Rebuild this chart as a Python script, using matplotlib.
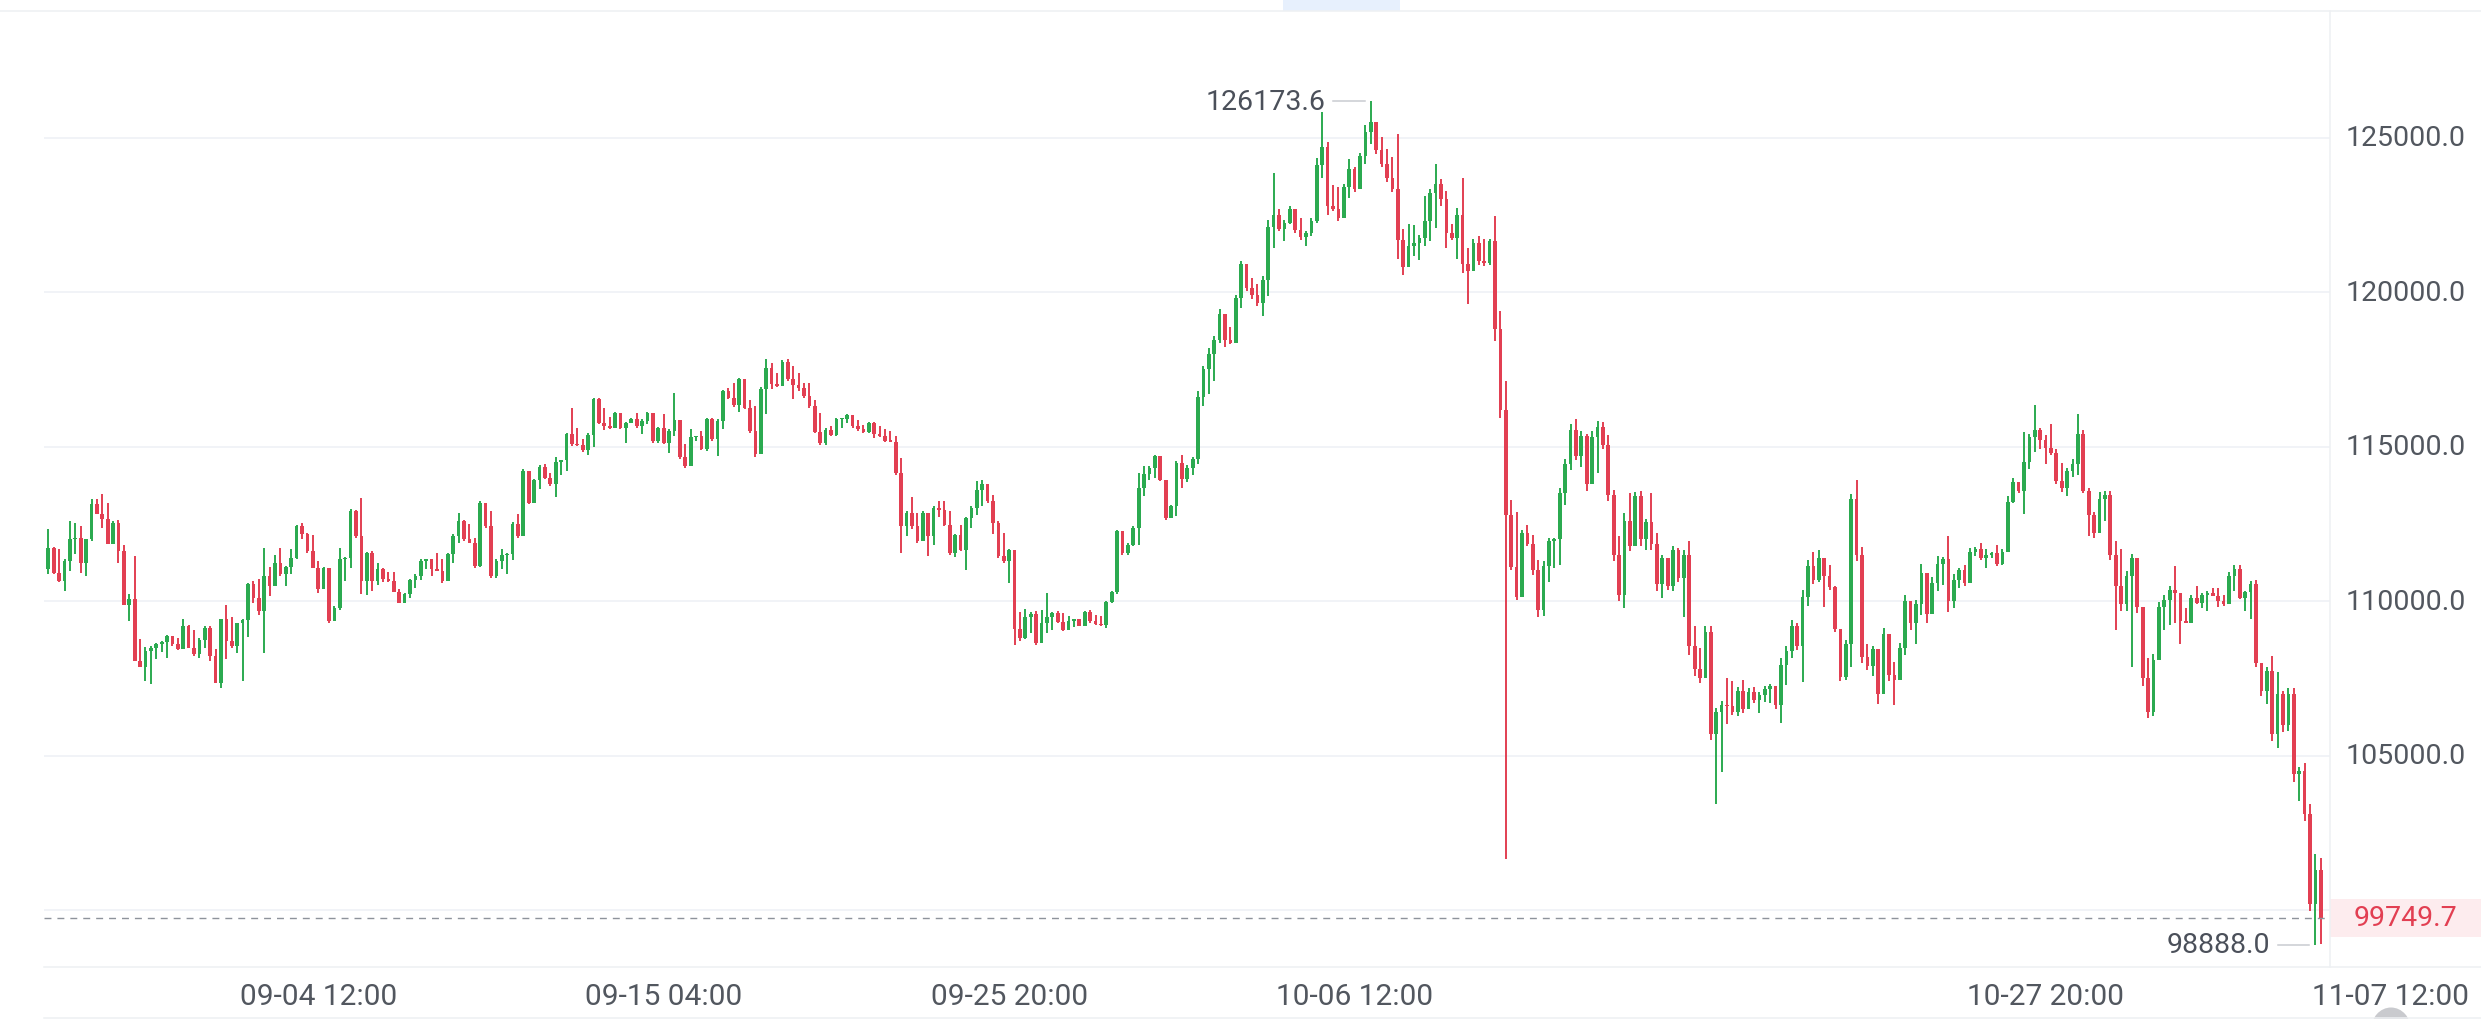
import numpy as np
import matplotlib
matplotlib.use("Agg")
import matplotlib.pyplot as plt
import matplotlib.transforms as mtransforms
from matplotlib.patches import Rectangle, Ellipse
from matplotlib.lines import Line2D

# 4h candles, BTC, 08-27 04:00 -> 11-05 08:00
first_open = 111025
closes = [
    111727, 110917, 110648, 111295, 111996, 112050, 111241, 111996, 113129, 112806,
    112644, 111835, 112536, 111619, 109871, 110054, 108058, 107875, 108382, 108490,
    108598, 108673, 108867, 108598, 108436, 109191, 108490, 108274, 108759, 109137,
    108220, 107357, 109407, 108706, 108544, 109299, 109385, 110540, 110108, 109677,
    110809, 110486, 111241, 110863, 111112, 111403, 112428, 112158, 111619, 111079,
    110378, 111079, 109353, 109784, 111349, 111403, 112913, 112104, 110648, 111565,
    110648, 111025, 110702, 110648, 110292, 109946, 110216, 110680, 110809, 111295,
    111349, 111050, 110990, 110648, 111512, 112106, 112600, 111998, 111890, 111134,
    113186, 112430, 110810, 111296, 111480, 111540, 112506, 112106, 114212, 113186,
    113920, 114342, 114000, 113780, 114500, 114560, 115400, 115076, 115044, 114882,
    115378, 116534, 115778, 115680, 115600, 116080, 115605, 115757, 115908, 115670,
    115843, 116080, 115184, 115605, 115130, 115508, 115850, 114676, 114374, 115300,
    115340, 114936, 115886, 115238, 115832, 116793, 116577, 116340, 117182, 116264,
    115508, 114752, 116880, 117560, 117020, 116970, 117744, 117182, 117000, 116900,
    116642, 116318, 115476, 115117, 115548, 115365, 115893, 115904, 116033, 115656,
    115580, 115473, 115764, 115420, 115340, 115171, 115160, 114147, 112422, 112853,
    112422, 111937, 112853, 112099, 113015, 112961, 112476, 111560, 112152, 111667,
    112692, 113015, 113600, 113800, 113231, 112530, 111452, 111290, 111646, 109100,
    108800, 109500, 109600, 108649, 109300, 109500, 109620, 109328, 109080, 109350,
    109420, 109210, 109641, 109350, 109274, 109220, 109964, 110288, 112260, 111560,
    111829, 112368, 113650, 114100, 114300, 114686, 113931, 112692, 113090, 114470,
    113950, 114300, 114600, 116600, 117500, 118000, 118450, 119300, 118450, 118350,
    119800, 120900, 120150, 119900, 119650, 120400, 122100, 122500, 122050, 122250,
    122700, 122000, 121780, 121900, 122300, 124100, 124700, 122800, 122700, 122400,
    123400, 124000, 123350, 124400, 125200, 125500, 124600, 124150, 123700, 123350,
    121700, 120800, 121500, 121600, 121750, 122300, 123200, 123500, 123000, 121900,
    121750, 122500, 120900, 120700, 121600, 121000, 120950, 121650, 118800, 116200,
    112800, 111100, 110150, 112200, 111850, 111000, 109700, 111150, 111950, 112000,
    113500, 114450, 115550, 114700, 115350, 113800, 115300, 115650, 115050, 113450,
    111500, 110200, 112600, 111800, 113400, 112000, 112550, 111850, 110550, 111400,
    110500, 111650, 110750, 111500, 108550, 107800, 107500, 109000, 105700, 106400,
    106650, 106600, 106400, 107100, 106500, 107050, 106800, 106950, 107150, 107250,
    106650, 107950, 108400, 109200, 108550, 110150, 111150, 110700, 111400, 110800,
    110450, 109100, 107550, 108600, 113300, 111500, 108200, 107900, 108450, 107000,
    108950, 107600, 107450, 108500, 110000, 109300, 109900, 110900, 109600, 110600,
    111200, 111350, 110000, 110700, 111000, 110600, 111600, 111700, 111400, 111500,
    111560, 111200, 111600, 113200, 113850, 113550, 114500, 115300, 115550, 115200,
    114950, 114780, 113900, 113650, 114200, 114450, 115400, 113550, 112800, 112200,
    113300, 113450, 111500, 110500, 109900, 110800, 111400, 109800, 107500, 106400,
    108100, 109800, 110050, 110350, 110250, 109350, 109300, 110100, 109950, 110200,
    110250, 110180, 110000, 109900, 110800, 111050, 110100, 110300, 110550, 108000,
    107100, 107750, 105700, 107000, 106000, 107000, 104400, 104500, 103100, 100200,
    101300, 99749.7,
]
highs = [
    112320, 111759, 111673, 111349, 112590, 112536, 112428, 111996, 113313, 113313,
    113453, 113183, 112590, 112622, 111802, 110238, 111457, 108781, 108522, 108544,
    108651, 108706, 108900, 108846, 108813, 109429, 109213, 109062, 108813, 109191,
    109191, 108436, 109407, 109871, 109493, 109299, 109407, 110572, 110648, 110702,
    111727, 111112, 111478, 111727, 111133, 111694, 112450, 112536, 112212, 112126,
    111295, 111112, 111079, 109838, 111727, 111435, 112967, 112946, 113345, 111586,
    111619, 111241, 111079, 110939, 110939, 110378, 110249, 110723, 110863, 111349,
    111370, 111349, 111566, 111350, 111566, 112160, 112862, 112614, 112484, 112052,
    113240, 113132, 112916, 111350, 111696, 111566, 112560, 112808, 114266, 114050,
    113964, 114396, 114428, 114158, 114676, 114568, 115454, 116264, 115616, 115260,
    115432, 116588, 116588, 116264, 115973, 116124, 116016, 115800, 115940, 116080,
    115886, 116124, 115832, 115648, 116048, 115562, 116728, 115832, 115076, 115562,
    115346, 115508, 115940, 115940, 115886, 116836, 116912, 117052, 117236, 117160,
    116512, 116318, 116944, 117830, 117700, 117398, 117808, 117852, 117614, 117398,
    117074, 117074, 116512, 116087, 115602, 115656, 115926, 115926, 116066, 116033,
    115850, 115710, 115785, 115785, 115677, 115570, 115494, 115333, 114632, 112907,
    113371, 112853, 112907, 112767, 113069, 113231, 113231, 112907, 112185, 112476,
    112724, 113069, 113877, 113910, 113608, 113446, 112584, 112206, 111689, 111646,
    109640, 109749, 109640, 109673, 109705, 110266, 109640, 109673, 109619, 109511,
    109425, 109382, 109673, 109705, 109565, 109533, 109996, 110320, 112314, 112260,
    111883, 112422, 114147, 114363, 114363, 114740, 114341, 113716, 113123, 114524,
    114718, 114396, 114669, 116813, 117619, 118183, 118586, 119440, 118908, 118860,
    119923, 121003, 120842, 120471, 120278, 120520, 122341, 123856, 122695, 122341,
    122776, 122502, 122405, 121970, 122405, 124339, 125838, 124871, 123469, 123420,
    123501, 124307, 124065, 124500, 125403, 126173.6, 125467, 125032, 124629, 124387,
    125113, 122050, 122212, 122180, 121857, 123098, 123340, 124146, 123662, 123259,
    122212, 122727, 123694, 121438, 121728, 121809, 121728, 121728, 122453, 119391,
    117135, 113267, 112897, 112301, 112462, 112140, 111334, 111285, 112059, 112059,
    113670, 114605, 115733, 115894, 115508, 115400, 115508, 115832, 115800, 115367,
    113594, 112103, 112859, 113486, 113530, 113562, 112643, 113486, 112211, 111508,
    111216, 111800, 111724, 111670, 111940, 109184, 108481, 109184, 109184, 106535,
    106784, 107508, 107400, 107238, 107433, 107184, 107216, 107044, 107260, 107325,
    107216, 108157, 108535, 109378, 109292, 110373, 111346, 111584, 111649, 111259,
    111184, 110481, 109022, 108752, 113454, 113919, 111757, 108622, 108557, 108341,
    109130, 108752, 108017, 108644, 110211, 109854, 110049, 111216, 110157, 110784,
    111476, 111432, 112124, 110892, 111070, 111171, 111725, 111763, 111889, 111675,
    111599, 111826, 111675, 113400, 113992, 113778, 115478, 115415, 116360, 115600,
    115378, 115730, 114911, 114471, 114320, 114597, 116045, 115541, 113652, 112896,
    113526, 113564, 113564, 111952, 111700, 110970, 111511, 111322, 109710, 108148,
    108275, 109962, 110189, 110504, 111133, 110214, 109786, 110214, 110504, 110252,
    110315, 110441, 110441, 110214, 110944, 111171, 111171, 110340, 110667, 110693,
    108000, 107859, 108237, 107695, 107103, 107191, 107191, 104622, 104773, 103451,
    101814, 101688,
]
lows = [
    110863, 110863, 110615, 110324, 110971, 111511, 110917, 110809, 111943, 112806,
    112374, 111835, 111835, 111241, 109871, 109353, 108058, 107875, 107411, 107303,
    108112, 108349, 108166, 108565, 108414, 108738, 108490, 108220, 108166, 108490,
    108058, 107357, 107195, 108112, 108490, 108328, 107411, 108846, 109946, 109536,
    108328, 110162, 110648, 110809, 110486, 110863, 111349, 111996, 111565, 111079,
    110270, 110378, 109299, 109353, 109709, 110648, 111079, 112050, 110216, 110184,
    110324, 110507, 110615, 110615, 110292, 109925, 109968, 110108, 110432, 110680,
    111025, 110809, 110970, 110594, 110864, 111220, 111868, 111944, 111868, 111080,
    111100, 112376, 110756, 110756, 111048, 110864, 111328, 112052, 112236, 113132,
    113488, 113640, 113942, 113726, 113380, 114072, 114212, 115022, 115022, 114828,
    114720, 115000, 115724, 115540, 115580, 115692, 115562, 115108, 115757, 115616,
    115400, 115724, 115130, 115130, 115076, 114784, 115346, 114612, 114320, 114568,
    115184, 114892, 114860, 115184, 114698, 115562, 116534, 116296, 116124, 116210,
    115454, 114676, 115260, 116048, 116858, 116944, 116966, 117128, 116556, 116804,
    116588, 116264, 115432, 115063, 115063, 115333, 115354, 115602, 115764, 115602,
    115494, 115446, 115446, 115279, 115300, 115139, 115139, 114093, 111560, 112120,
    112336, 111883, 111937, 111452, 111829, 112737, 112444, 111506, 111430, 111614,
    111021, 112368, 112799, 113069, 113177, 112185, 111398, 111236, 110589, 108595,
    108703, 108778, 108973, 108595, 108703, 108973, 109058, 109296, 109026, 109188,
    109166, 109188, 109296, 109296, 109242, 109188, 109134, 109942, 110245, 111506,
    111506, 111775, 111829, 113390, 113931, 113985, 113877, 112638, 112799, 112745,
    113671, 113864, 114073, 114444, 116330, 116700, 117135, 118344, 118215, 118312,
    118340, 119472, 120036, 119794, 119553, 119230, 119875, 121438, 121970, 121648,
    122212, 121922, 121696, 121486, 121809, 122244, 123694, 122502, 122615, 122292,
    122534, 123050, 123257, 123340, 124146, 124790, 124468, 124065, 123581, 123257,
    121084, 120567, 121245, 121164, 121051, 121486, 121648, 122083, 122776, 121438,
    121696, 121084, 120632, 119633, 120842, 120890, 120842, 120890, 118425, 115927,
    101666, 111011, 110043, 110156, 111770, 110850, 109480, 109512, 110608, 111059,
    111172, 113106, 114234, 114557, 114351, 113562, 114046, 114157, 114935, 113238,
    111292, 109995, 109778, 111616, 112157, 111778, 111670, 111670, 110319, 110103,
    110373, 110319, 110611, 109487, 108265, 107563, 107347, 107941, 105509, 103451,
    104482, 106027, 106319, 106287, 106395, 106590, 106719, 106395, 106752, 106698,
    106503, 106049, 107292, 108157, 108427, 107368, 109854, 110568, 110611, 109811,
    110373, 108990, 107400, 107433, 107865, 111292, 107995, 107779, 107563, 106676,
    107433, 107400, 106644, 107508, 108265, 109076, 108622, 109562, 109292, 109962,
    110319, 110535, 109638, 109778, 110415, 110504, 110919, 111446, 111345, 111070,
    111383, 111131, 111171, 111599, 113186, 113488, 112833, 114282, 114823, 114911,
    114445, 114723, 113778, 113526, 113400, 114030, 114068, 113488, 112103, 112053,
    112431, 112581, 111322, 109055, 109685, 109685, 107859, 109622, 107267, 106220,
    106284, 108237, 109055, 109244, 109307, 108629, 109282, 109332, 109912, 109786,
    109685, 110164, 109811, 109836, 109962, 110315, 110063, 109685, 109408, 107859,
    106940, 106687, 105467, 105247, 105781, 105806, 104144, 103539, 102884, 99963,
    98888, 98918,
]
last_price = 99749.7
price_ticks = [105000, 110000, 115000, 120000, 125000]
grid_levels = [100000, 105000, 110000, 115000, 120000, 125000]
date_pos = [50, 114, 178, 242, 370, 434]
date_labels = ["09-04 12:00", "09-15 04:00", "09-25 20:00", "10-06 12:00", "10-27 20:00", "11-07 12:00"]

# open of each candle = close of the one before
opens = [first_open] + closes[:-1]

UP = "#2BAA50"
DOWN = "#E23F52"
GRID = "#EDF0F5"
TXT = "#52575F"

plt.rcParams["font.family"] = ["Roboto", "DejaVu Sans"]

o = np.array(opens, dtype=float)
c = np.array(closes, dtype=float)
h = np.array(highs, dtype=float)
l = np.array(lows, dtype=float)
x = np.arange(len(c))
cols = np.where(c >= o, UP, DOWN)

W, H = 2481, 1020
fig = plt.figure(figsize=(W / 100, H / 100), dpi=100)
ax = fig.add_axes([44 / W, 52 / H, 2286 / W, 956 / H])
ax.set_xlim(-0.8, 422.7)
ax.set_ylim(98160, 129100)
ax.axis("off")

for g in grid_levels:
    ax.axhline(g, color=GRID, lw=1.1, zorder=0)

# candles
ax.vlines(x, l, h, colors=cols, lw=1.4, zorder=2)
ax.bar(x, np.maximum(np.abs(c - o), 45), bottom=np.minimum(o, c), width=0.68,
       color=cols, linewidth=0, zorder=3)

# last price
ax.axhline(last_price, color="#8E939B", lw=1.0, ls=(0, (5, 4.3)), zorder=4)

# max / min markers
i_hi = int(np.argmax(h))
i_lo = int(np.argmin(l))
for idx, val in [(i_hi, h[i_hi]), (i_lo, l[i_lo])]:
    ax.plot([idx - 7, idx - 1.1], [val, val], color="#C9CCD1", lw=1.1, zorder=4)
    ax.text(idx - 8.4, val, f"{val:.1f}", ha="right", va="center", fontsize=20.5,
            color="#4B505A", zorder=5)

# right price scale
tr_y = mtransforms.blended_transform_factory(fig.transFigure, ax.transData)
for p in price_ticks:
    ax.text(2405.5 / W, p, f"{p:.1f}", transform=tr_y, ha="center", va="center",
            fontsize=20.5, color=TXT, clip_on=False)
ax.add_patch(Rectangle((2330 / W, last_price - 620), 151 / W, 1240, transform=tr_y,
                       facecolor="#FDECEE", edgecolor="none", clip_on=False, zorder=1))
ax.text(2405.5 / W, last_price, f"{last_price:.1f}", transform=tr_y, ha="center",
        va="center", fontsize=20.5, color=DOWN, clip_on=False, zorder=5)

# time scale
tr_x = mtransforms.blended_transform_factory(ax.transData, fig.transFigure)
for pos, lab in zip(date_pos, date_labels):
    ax.text(pos, 15 / H, lab, transform=tr_x, ha="center", va="baseline",
            fontsize=21.5, color=TXT, clip_on=False)

# frame lines and bits of the surrounding UI
line_col = "#EEF0F3"
fig.add_artist(Line2D([0, 1], [1008 / H, 1008 / H], transform=fig.transFigure, color=line_col, lw=1.1))
fig.add_artist(Line2D([44 / W, 1], [52 / H, 52 / H], transform=fig.transFigure, color=line_col, lw=1.1))
fig.add_artist(Line2D([44 / W, 1], [1.5 / H, 1.5 / H], transform=fig.transFigure, color=line_col, lw=1.1))
fig.add_artist(Line2D([2330 / W, 2330 / W], [52 / H, 1008 / H], transform=fig.transFigure, color=line_col, lw=1.1))
fig.add_artist(Rectangle((1283 / W, 1008 / H), 117 / W, 12 / H, transform=fig.transFigure,
                         facecolor="#E7F0FD", edgecolor="none"))
fig.add_artist(Ellipse((2391 / W, -11 / H), 40 / W, 45 / H, transform=fig.transFigure,
                       facecolor="#C9CACE", edgecolor="none"))

fig.savefig("out.png", dpi=100)
